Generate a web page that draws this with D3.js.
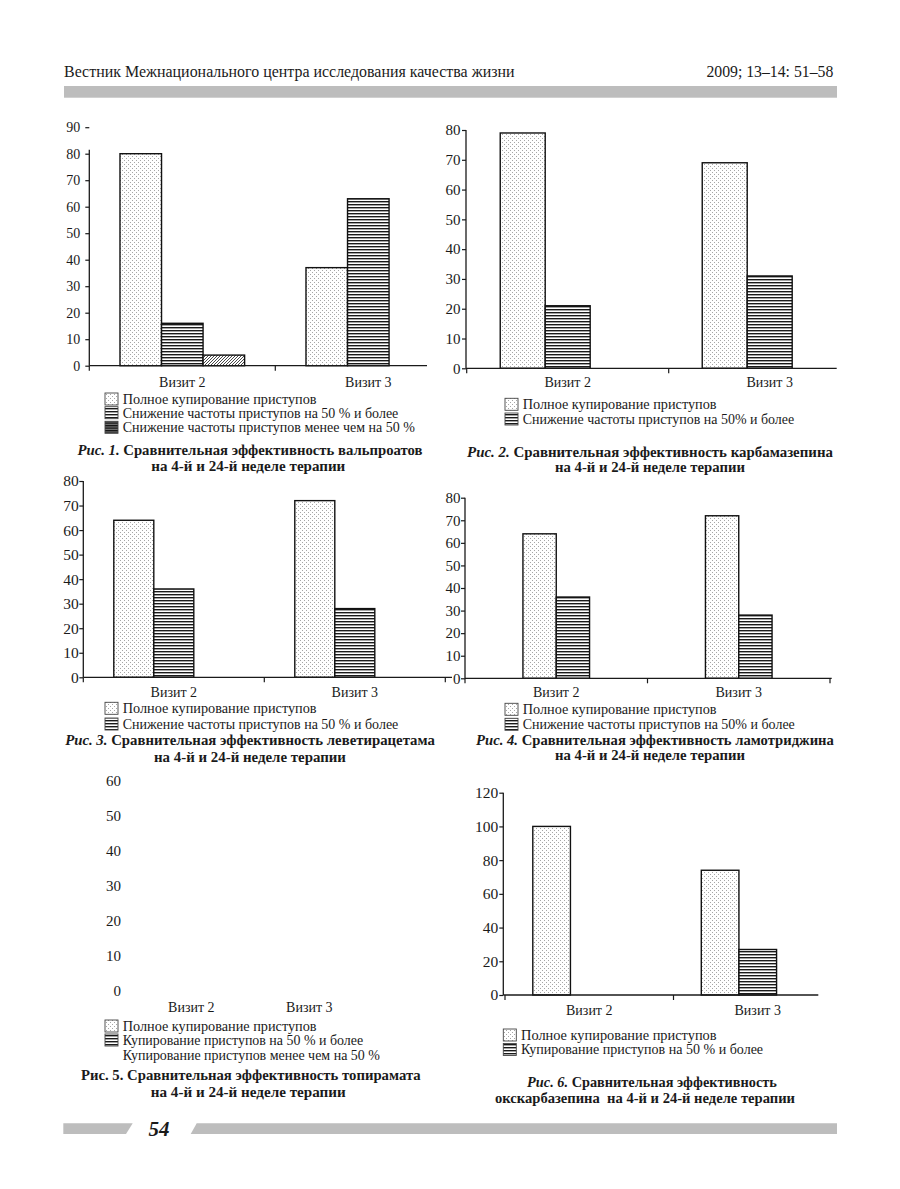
<!DOCTYPE html>
<html>
<head>
<meta charset="utf-8">
<title>Сравнительная эффективность</title>
<script src="https://d3js.org/d3.v7.min.js"></script>
<style>
  body { margin: 0; background: #fff; }
  svg { display: block; }
</style>
</head>
<body>
<div id="page"></div>
<script>
// ---- data ----
const visits = ["Визит 2", "Визит 3"];

const fig1Names = ["Полное купирование приступов", "Снижение частоты приступов на 50 % и более", "Снижение частоты приступов менее чем на 50 %"];
const fig1Full = [80, 37];
const fig1Half = [16, 63];
const fig1Less = [4, 0];
const fig1Ticks = [0, 10, 20, 30, 40, 50, 60, 70, 80, 90];

const fig2Names = ["Полное купирование приступов", "Снижение частоты приступов на 50% и более"];
const fig2Full = [79, 69];
const fig2Half = [21, 31];
const fig2Ticks = [0, 10, 20, 30, 40, 50, 60, 70, 80];

const fig3Names = ["Полное купирование приступов", "Снижение частоты приступов на 50 % и более"];
const fig3Full = [64, 72];
const fig3Half = [36, 28];
const fig3Ticks = [0, 10, 20, 30, 40, 50, 60, 70, 80];

const fig4Names = ["Полное купирование приступов", "Снижение частоты приступов на 50% и более"];
const fig4Full = [64, 72];
const fig4Half = [36, 28];
const fig4Ticks = [0, 10, 20, 30, 40, 50, 60, 70, 80];

const fig5Names = ["Полное купирование приступов", "Купирование приступов на 50 % и более", "Купирование приступов менее чем на 50 %"];
const fig5Ticks = [0, 10, 20, 30, 40, 50, 60];

const fig6Names = ["Полное купирование приступов", "Купирование приступов на 50 % и более"];
const fig6Full = [100, 74];
const fig6Half = [0, 27];
const fig6Ticks = [0, 20, 40, 60, 80, 100, 120];

const captionSub = "на 4-й и 24-й неделе терапии";

// ---- page ----
const W = 900, H = 1189;
const serif = "'Liberation Serif', 'DejaVu Serif', serif";
const ink = "#1a1a1a";

const svg = d3.select("#page").append("svg")
  .attr("width", W).attr("height", H)
  .style("font-family", serif);

const defs = svg.append("defs");

// dotted fill
const dots = defs.append("pattern").attr("id", "dots")
  .attr("patternUnits", "userSpaceOnUse").attr("width", 4).attr("height", 4);
dots.append("rect").attr("width", 4).attr("height", 4).attr("fill", "#fff");
dots.append("rect").attr("x", 0).attr("y", 0).attr("width", 1).attr("height", 1).attr("fill", "#a6a6a6");
dots.append("rect").attr("x", 2).attr("y", 2).attr("width", 1).attr("height", 1).attr("fill", "#a6a6a6");

// horizontal stripes
const hs = defs.append("pattern").attr("id", "hstripes")
  .attr("patternUnits", "userSpaceOnUse").attr("width", 6).attr("height", 3);
hs.append("rect").attr("width", 6).attr("height", 3).attr("fill", "#fff");
hs.append("rect").attr("width", 6).attr("height", 1.4).attr("fill", "#1a1a1a");

// dark stripes (legend swatch of fig 1)
const dk = defs.append("pattern").attr("id", "dark")
  .attr("patternUnits", "userSpaceOnUse").attr("width", 6).attr("height", 2.5);
dk.append("rect").attr("width", 6).attr("height", 2.5).attr("fill", "#777");
dk.append("rect").attr("width", 6).attr("height", 1.3).attr("fill", "#111");

// diagonal hatch
const dg = defs.append("pattern").attr("id", "diag")
  .attr("patternUnits", "userSpaceOnUse").attr("width", 3).attr("height", 3);
dg.append("rect").attr("width", 3).attr("height", 3).attr("fill", "#fff");
dg.append("path").attr("d", "M-1,1 l2,-2 M0,3 l3,-3 M2,4 l2,-2")
  .attr("stroke", "#333").attr("stroke-width", 0.9);

// scale the font so the text spans the width measured on the page
function fit(sel, w) {
  const len = sel.node().getComputedTextLength();
  const fs = +sel.attr("font-size");
  if (len > 0) sel.attr("font-size", (fs * w / len).toFixed(2));
}

// header
const header = svg.append("text")
  .attr("x", 64).attr("y", 71.7).attr("dy", "0.35em")
  .attr("font-size", 14.5).attr("fill", ink)
  .text("Вестник Межнационального центра исследования качества жизни");
fit(header, 451);
const headerRight = svg.append("text")
  .attr("x", 833.3).attr("y", 71.7).attr("dy", "0.35em")
  .attr("text-anchor", "end")
  .attr("font-size", 14.5).attr("fill", ink)
  .text("2009; 13–14: 51–58");
fit(headerRight, 127);
svg.append("rect").attr("x", 64).attr("y", 86).attr("width", 773).attr("height", 11.7).attr("fill", "#bdbdbd");

// footer
svg.append("polygon").attr("points", "63.3,1123.3 132.7,1123.3 126,1134 63.3,1134").attr("fill", "#bdbdbd");
svg.append("polygon").attr("points", "196.7,1123.3 837,1123.3 837,1134 190.7,1134").attr("fill", "#bdbdbd");
svg.append("text").attr("x", 159).attr("y", 1129).attr("dy", "0.35em")
  .attr("text-anchor", "middle").attr("font-size", 21)
  .attr("font-weight", "bold").attr("font-style", "italic").attr("fill", ink)
  .text("54");

// ---- charts ----
const charts = [
  { series: [fig1Full, fig1Half, fig1Less], names: fig1Names, ticks: fig1Ticks,
    fig: "Рис. 1.", title: " Сравнительная эффективность вальпроатов", sub: captionSub, italicFig: true,
    yAxisX: 89.3, y0: 365.7, yTop: 127.2, domainTop: 81.5, xStart: 89.3, band: 186, xEnd: 427,
    slots: 3, groupFrac: 0.67, tickFont: 14, tickPad: 5, catY: 381.7, axes: true,
    pats: ["dots", "hstripes", "diag"], legPats: ["dots", "hstripes", "dark"],
    legX: 105, legY: [399, 412.7, 427.3], legW: [194, 275.7, 292.3],
    capX: [250, 248.3], capY: [450.3, 465.7], capW: [345, 194] },
  { series: [fig2Full, fig2Half], names: fig2Names, ticks: fig2Ticks,
    fig: "Рис. 2.", title: " Сравнительная эффективность карбамазепина", sub: captionSub, italicFig: true,
    yAxisX: 466, y0: 368.3, yTop: 130, domainTop: 80, xStart: 466.7, band: 202, xEnd: 836.7,
    slots: 3, groupFrac: 0.668, tickFont: 15, tickPad: 1.5, catY: 381.7, axes: true,
    pats: ["dots", "hstripes"], legPats: ["dots", "hstripes"],
    legX: 505, legY: [404.3, 419], legW: [194, 271.6],
    capX: [650, 650], capY: [452, 466.7], capW: [366, 190] },
  { series: [fig3Full, fig3Half], names: fig3Names, ticks: fig3Ticks,
    fig: "Рис. 3.", title: " Сравнительная эффективность леветирацетама", sub: captionSub, italicFig: true,
    yAxisX: 83.3, y0: 677.3, yTop: 481, domainTop: 80, xStart: 83.3, band: 181, xEnd: 452,
    slots: 3, groupFrac: 0.663, tickFont: 15.5, tickPad: 0.5, catY: 691.7, axes: true,
    pats: ["dots", "hstripes"], legPats: ["dots", "hstripes"],
    legX: 105, legY: [708.3, 724], legW: [194, 275.7],
    capX: [250, 250], capY: [740.2, 756.5], capW: [370, 192] },
  { series: [fig4Full, fig4Half], names: fig4Names, ticks: fig4Ticks,
    fig: "Рис. 4.", title: " Сравнительная эффективность ламотриджина", sub: captionSub, italicFig: true,
    yAxisX: 465, y0: 678.3, yTop: 497.7, domainTop: 80, xStart: 465, band: 182.5, xEnd: 831.7,
    slots: 2, groupFrac: 0.365, tickFont: 15, tickPad: 0.5, catY: 691.7, axes: true,
    pats: ["dots", "hstripes"], legPats: ["dots", "hstripes"],
    legX: 505, legY: [709.3, 724.3], legW: [194, 272.3],
    capX: [655, 650], capY: [739.5, 754.5], capW: [358, 190] },
  { series: [], names: fig5Names, ticks: fig5Ticks,
    fig: "Рис. 5.", title: " Сравнительная эффективность топирамата", sub: captionSub, italicFig: false,
    yAxisX: 125, y0: 990.7, yTop: 781, domainTop: 60, xStart: 132.3, band: 118, xEnd: 368,
    slots: 3, groupFrac: 0.67, tickFont: 15, tickPad: 4, catY: 1006.7, axes: false,
    pats: [], legPats: ["dots", "hstripes", null],
    legX: 105, legY: [1026, 1040, 1055], legW: [194, 240.6, 257.3],
    capX: [250.8, 248.3], capY: [1075.2, 1092.2], capW: [340, 195] },
  { series: [fig6Full, fig6Half], names: fig6Names, ticks: fig6Ticks,
    fig: "Рис. 6.", title: " Сравнительная эффективность", sub: "окскарбазепина  на 4-й и 24-й неделе терапии", italicFig: true,
    yAxisX: 503.3, y0: 995, yTop: 792.7, domainTop: 120, xStart: 505, band: 168.5, xEnd: 818.3,
    slots: 3, groupFrac: 0.67, tickFont: 15.5, tickPad: 1, catY: 1010, axes: true,
    pats: ["dots", "hstripes"], legPats: ["dots", "hstripes"],
    legX: 503.3, legY: [1035, 1049.5], legW: [195.7, 242.3],
    capX: [652, 645], capY: [1081.5, 1097.5], capW: [250, 300] }
];

function drawChart(cfg) {
  const g = svg.append("g");
  const ticks = cfg.ticks;

  const y = d3.scaleLinear()
    .domain([0, ticks[ticks.length - 1]])
    .range([cfg.y0, cfg.yTop]);

  const x0 = d3.scaleBand()
    .domain(visits)
    .range([cfg.xStart, cfg.xStart + cfg.band * visits.length]);
  const groupW = x0.bandwidth() * cfg.groupFrac;
  const x1 = d3.scaleBand()
    .domain(d3.range(cfg.slots))
    .range([0, groupW]);

  // y-axis
  const yAxis = g.append("g")
    .attr("transform", `translate(${cfg.yAxisX},0)`)
    .call(d3.axisLeft(y).tickValues(ticks).tickSize(cfg.axes ? 4 : 0).tickPadding(cfg.tickPad));
  yAxis.select(".domain").remove();
  yAxis.selectAll("line").attr("stroke", ink).attr("stroke-width", 1.2);
  yAxis.selectAll("text")
    .attr("font-family", serif).attr("font-size", cfg.tickFont).attr("fill", ink);

  if (cfg.axes) {
    g.append("line")
      .attr("x1", cfg.yAxisX).attr("x2", cfg.yAxisX)
      .attr("y1", y(0)).attr("y2", y(cfg.domainTop))
      .attr("stroke", ink).attr("stroke-width", 1.3);
  }

  // bars
  const bars = [];
  cfg.series.forEach((vals, s) => {
    vals.forEach((v, j) => {
      if (v > 0) bars.push({ visit: visits[j], slot: s, value: v });
    });
  });
  g.selectAll(".bar")
    .data(bars)
    .enter()
    .append("rect")
    .attr("class", "bar")
    .attr("x", d => x0(d.visit) + (x0.bandwidth() - groupW) / 2 + x1(d.slot))
    .attr("y", d => y(d.value))
    .attr("width", x1.bandwidth())
    .attr("height", d => y(0) - y(d.value))
    .attr("fill", d => `url(#${cfg.pats[d.slot]})`)
    .attr("stroke", "#111")
    .attr("stroke-width", 1.4);

  // x-axis
  if (cfg.axes) {
    g.append("line")
      .attr("x1", cfg.yAxisX).attr("x2", cfg.xEnd)
      .attr("y1", y(0)).attr("y2", y(0))
      .attr("stroke", ink).attr("stroke-width", 1.3);
    const edges = visits.map(v => x0(v)).concat([x0.range()[1]])
      .filter(px => px <= cfg.xEnd + 0.5);
    g.selectAll(".xtick")
      .data(edges)
      .enter()
      .append("line")
      .attr("class", "xtick")
      .attr("x1", d => d).attr("x2", d => d)
      .attr("y1", y(0)).attr("y2", y(0) + 5)
      .attr("stroke", ink).attr("stroke-width", 1.2);
  }
  const xAxis = g.append("g")
    .attr("transform", `translate(0,${y(0)})`)
    .call(d3.axisBottom(x0).tickSize(0));
  xAxis.select(".domain").remove();
  xAxis.selectAll("text")
    .attr("y", cfg.catY - y(0)).attr("dy", "0.35em")
    .attr("font-family", serif).attr("font-size", 14).attr("fill", ink);

  // legend
  cfg.names.forEach((name, i) => {
    const ly = cfg.legY[i];
    if (cfg.legPats[i]) {
      g.append("rect")
        .attr("x", cfg.legX).attr("y", ly - 6)
        .attr("width", 13).attr("height", 12)
        .attr("fill", `url(#${cfg.legPats[i]})`)
        .attr("stroke", "#444").attr("stroke-width", 0.9);
    }
    const t = g.append("text")
      .attr("x", cfg.legX + 17.7).attr("y", ly).attr("dy", "0.35em")
      .attr("font-size", 14).attr("fill", ink)
      .text(name);
    fit(t, cfg.legW[i]);
  });

  // caption
  const c1 = g.append("text")
    .attr("x", cfg.capX[0]).attr("y", cfg.capY[0]).attr("dy", "0.35em")
    .attr("text-anchor", "middle")
    .attr("font-size", 14).attr("font-weight", "bold").attr("fill", ink);
  c1.append("tspan").attr("font-style", cfg.italicFig ? "italic" : "normal").text(cfg.fig);
  c1.append("tspan").text(cfg.title);
  fit(c1, cfg.capW[0]);
  const c2 = g.append("text")
    .attr("x", cfg.capX[1]).attr("y", cfg.capY[1]).attr("dy", "0.35em")
    .attr("text-anchor", "middle")
    .attr("font-size", 14).attr("font-weight", "bold").attr("fill", ink)
    .attr("xml:space", "preserve")
    .text(cfg.sub);
  fit(c2, cfg.capW[1]);
}

charts.forEach(drawChart);
</script>
</body>
</html>
